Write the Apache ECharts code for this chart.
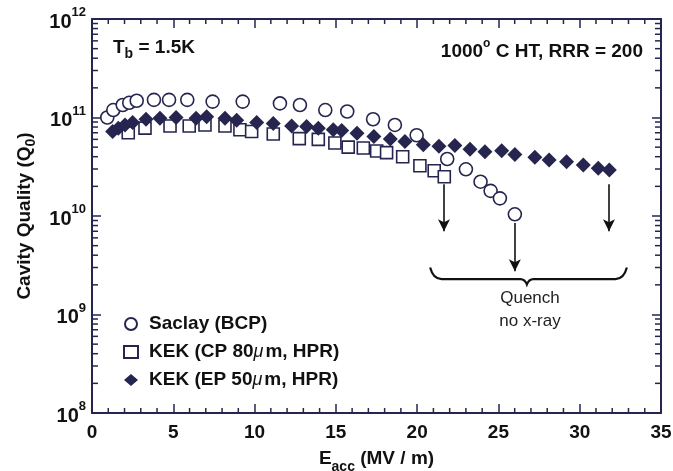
<!DOCTYPE html>
<html><head><meta charset="utf-8">
<script src="https://cdn.jsdelivr.net/npm/echarts@6/dist/echarts.min.js"></script>
<style>html,body{margin:0;padding:0;background:#fff}#c{width:673px;height:471px}</style>
</head><body><div id="c"></div>
<script>
// ---- data ----
const saclayE = [0.94, 1.31, 1.89, 2.29, 2.75, 3.81, 4.74, 5.86, 7.42, 9.27, 11.56, 12.79, 14.35, 15.70, 17.29, 18.63, 19.97, 21.85, 23.0, 23.9, 24.52, 25.09, 26.01];
const saclayQ = [1.0e11, 1.19e11, 1.34e11, 1.41e11, 1.48e11, 1.51e11, 1.51e11, 1.51e11, 1.45e11, 1.45e11, 1.39e11, 1.34e11, 1.19e11, 1.15e11, 9.6e10, 8.4e10, 6.6e10, 3.79e10, 2.98e10, 2.23e10, 1.80e10, 1.51e10, 1.04e10];
const cpE = [2.23, 3.26, 4.80, 5.98, 6.95, 8.18, 9.10, 9.82, 11.15, 12.75, 13.92, 14.94, 15.76, 16.69, 17.51, 18.12, 19.11, 20.17, 21.05, 21.67];
const cpQ = [7.0e10, 7.8e10, 8.2e10, 8.2e10, 8.4e10, 8.2e10, 7.5e10, 7.2e10, 6.8e10, 6.1e10, 6.0e10, 5.5e10, 5.0e10, 4.9e10, 4.57e10, 4.4e10, 4.0e10, 3.24e10, 2.88e10, 2.5e10];
const epE = [1.27, 1.62, 2.03, 2.50, 3.32, 4.18, 5.17, 6.40, 7.05, 8.18, 8.90, 10.13, 11.15, 12.28, 13.20, 13.92, 14.84, 15.36, 16.30, 17.34, 18.35, 19.25, 20.38, 21.34, 22.32, 23.25, 24.17, 25.20, 26.01, 27.24, 28.12, 29.19, 30.22, 31.14, 31.82];
const epQ = [7.2e10, 7.8e10, 8.4e10, 8.9e10, 9.6e10, 9.8e10, 1.0e11, 9.8e10, 1.02e11, 9.8e10, 9.4e10, 8.9e10, 8.7e10, 8.2e10, 8.1e10, 7.8e10, 7.5e10, 7.4e10, 6.9e10, 6.4e10, 6.05e10, 5.7e10, 5.3e10, 5.1e10, 5.2e10, 4.75e10, 4.5e10, 4.6e10, 4.2e10, 3.94e10, 3.7e10, 3.56e10, 3.3e10, 3.05e10, 2.93e10];
const seriesNames = ['Saclay (BCP)', 'KEK (CP 80μm, HPR)', 'KEK (EP 50μm, HPR)'];
const xMin = 0, xMax = 35, xStep = 5;
const xMinorTicks = [1, 2, 3, 4, 6, 7, 8, 9, 11, 12, 13, 14, 16, 17, 18, 19, 21, 22, 23, 24, 26, 27, 28, 29, 31, 32, 33, 34];
const yDecades = [8, 9, 10, 11, 12];
const yMinorMantissas = [2, 3, 4, 5, 6, 7, 8, 9];
// quench arrows
const arrowE = [21.65, 26.01, 31.8];
const arrowTopQ = [2.1e10, 8.5e9, 2.1e10];
const arrowTipQ = [7.0e9, 2.75e9, 7.0e9];
// brace (data coords)
const braceE = [20.8, 21.5, 26.35, 26.75, 27.15, 32.2, 32.9];
const braceQ = [3.0e9, 2.29e9, 2.29e9, 2.02e9, 2.29e9, 2.29e9, 3.0e9];

const NAVY = '#25254f';
const INK = '#111111';
const FONT = '"Liberation Sans", Arial, sans-serif';

const zip = (a, b) => a.map((v, i) => [v, b[i]]);
const minorY = [];
yDecades.slice(0, -1).forEach(d => yMinorMantissas.forEach(m => minorY.push([1, m * Math.pow(10, d)])));
const minorX = xMinorTicks.map(v => [v, 1e10]);

const axisCommon = {
  axisLine: { show: true, onZero: false, lineStyle: { color: NAVY, width: 2 } },
  splitLine: { show: false },
  minorTick: { show: false },
  minorSplitLine: { show: false },
  axisTick: { show: true, inside: true, length: 9, lineStyle: { color: NAVY, width: 1.5 } }
};

const chart = echarts.init(document.getElementById('c'));
chart.setOption({
  animation: false,
  backgroundColor: '#fff',
  grid: { left: 92, right: 12, top: 19, bottom: 58, containLabel: false, outerBoundsMode: 'none' },
  xAxis: [
    Object.assign({
      type: 'value', min: xMin, max: xMax, interval: xStep, position: 'bottom',
      axisLabel: { color: INK, fontFamily: FONT, fontSize: 19, fontWeight: 'bold', margin: 10, showMinLabel: true, showMaxLabel: true },
      name: '{b|E}{s|acc}{b| (MV / m)}',
      nameLocation: 'middle', nameGap: 31,
      nameTextStyle: { rich: {
        b: { fontFamily: FONT, fontSize: 19, fontWeight: 'bold', color: INK, lineHeight: 30, verticalAlign: 'middle' },
        s: { fontFamily: FONT, fontSize: 14, fontWeight: 'bold', color: INK, lineHeight: 14, verticalAlign: 'bottom' }
      } }
    }, axisCommon),
    Object.assign({
      type: 'value', min: xMin, max: xMax, interval: xStep, position: 'top',
      axisLabel: { show: false }
    }, axisCommon)
  ],
  yAxis: [
    Object.assign({
      type: 'log', logBase: 10, min: Math.pow(10, yDecades[0]), max: Math.pow(10, yDecades[yDecades.length - 1]), position: 'left',
      axisLabel: {
        margin: 6, showMinLabel: true, showMaxLabel: true,
        formatter: v => '{b|10}{s|' + Math.round(Math.log10(v)) + '}',
        rich: {
          b: { fontFamily: FONT, fontSize: 20, fontWeight: 'bold', color: INK, lineHeight: 26, verticalAlign: 'bottom' },
          s: { fontFamily: FONT, fontSize: 13, fontWeight: 'bold', color: INK, lineHeight: 14, verticalAlign: 'top' }
        }
      },
      name: '{b|Cavity Quality (Q}{s|0}{b|)}',
      nameLocation: 'middle', nameGap: 52,
      nameTextStyle: { rich: {
        b: { fontFamily: FONT, fontSize: 19, fontWeight: 'bold', color: INK, lineHeight: 28, verticalAlign: 'middle' },
        s: { fontFamily: FONT, fontSize: 14, fontWeight: 'bold', color: INK, lineHeight: 14, verticalAlign: 'bottom' }
      } }
    }, axisCommon),
    Object.assign({
      type: 'log', logBase: 10, min: Math.pow(10, yDecades[0]), max: Math.pow(10, yDecades[yDecades.length - 1]), position: 'right',
      axisLabel: { show: false }
    }, axisCommon)
  ],
  legend: {
    data: seriesNames,
    orient: 'vertical', left: 118, top: 309, itemGap: 8,
    itemWidth: 14, itemHeight: 12,
    formatter: n => n.replace('μ', '{m|μ}'),
    textStyle: {
      fontFamily: FONT, fontSize: 19, fontWeight: 'bold', color: INK, lineHeight: 20, padding: [0, 0, 0, 6],
      rich: { m: { fontFamily: FONT, fontSize: 18, fontStyle: 'italic', fontWeight: 'normal', color: INK, padding: [0, 2, 0, 0] } }
    }
  },
  graphic: [
    { type: 'text', left: 113, top: 38, style: {
      text: '{a|T}{s|b}{a| = 1.5K}',
      rich: {
        a: { fontFamily: FONT, fontSize: 19, fontWeight: 'bold', fill: INK, lineHeight: 28, verticalAlign: 'middle' },
        s: { fontFamily: FONT, fontSize: 14, fontWeight: 'bold', fill: INK, lineHeight: 12, verticalAlign: 'bottom' }
      } } },
    { type: 'text', right: 30, top: 38, style: {
      text: '{a|1000}{p|o}{a| C HT, RRR = 200}',
      rich: {
        a: { fontFamily: FONT, fontSize: 19, fontWeight: 'bold', fill: INK, lineHeight: 28, verticalAlign: 'middle' },
        p: { fontFamily: FONT, fontSize: 12, fontWeight: 'bold', fill: INK, lineHeight: 12, verticalAlign: 'top' }
      } } },
    { type: 'text', x: 530, y: 290, style: { text: 'Quench', align: 'center', verticalAlign: 'top', fontFamily: FONT, fontSize: 17, fill: '#222' } },
    { type: 'text', x: 530, y: 313, style: { text: 'no x-ray', align: 'center', verticalAlign: 'top', fontFamily: FONT, fontSize: 17, fill: '#222' } }
  ],
  series: [
    { name: seriesNames[0], type: 'scatter', data: zip(saclayE, saclayQ), symbol: 'circle', symbolSize: 13,
      itemStyle: { color: '#fff', borderColor: NAVY, borderWidth: 1.6, opacity: 1 } },
    { name: seriesNames[1], type: 'scatter', data: zip(cpE, cpQ), symbol: 'rect', symbolSize: 12,
      itemStyle: { color: '#fff', borderColor: NAVY, borderWidth: 1.6, opacity: 1 } },
    { name: seriesNames[2], type: 'scatter', data: zip(epE, epQ), symbol: 'diamond', symbolSize: [15, 15],
      itemStyle: { color: NAVY, borderColor: NAVY, borderWidth: 0, opacity: 1 },
      markLine: {
        silent: true, symbol: ['none', 'arrow'], symbolSize: [9, 12],
        lineStyle: { color: INK, width: 1.6, type: 'solid' }, label: { show: false },
        data: arrowE.map((e, i) => [{ coord: [e, arrowTopQ[i]] }, { coord: [e, arrowTipQ[i]] }])
      } },
    { type: 'custom', silent: true, clip: false, data: [[0]],
      renderItem: (params, api) => {
        const p = braceE.map((e, i) => api.coord([e, braceQ[i]]));
        const d = 'M' + p[0] + ' Q' + [p[0][0] + 3, p[1][1]] + ' ' + p[1] +
          ' L' + p[2] + ' Q' + [p[3][0] - 2, p[2][1]] + ' ' + p[3] +
          ' Q' + [p[3][0] + 2, p[4][1]] + ' ' + p[4] + ' L' + p[5] +
          ' Q' + [p[6][0] - 3, p[5][1]] + ' ' + p[6];
        return { type: 'path', shape: { pathData: d }, style: { fill: 'none', stroke: INK, lineWidth: 2.2 } };
      } },
    { type: 'custom', silent: true, clip: false, z: 5, data: minorY, encode: { x: 0, y: 1 },
      renderItem: (params, api) => {
        const cs = params.coordSys;
        const y = api.coord([api.value(0), api.value(1)])[1];
        return { type: 'group', children: [
          { type: 'line', shape: { x1: cs.x, y1: y, x2: cs.x + 6, y2: y }, style: { stroke: NAVY, lineWidth: 1.5 } },
          { type: 'line', shape: { x1: cs.x + cs.width - 6, y1: y, x2: cs.x + cs.width, y2: y }, style: { stroke: NAVY, lineWidth: 1.5 } }
        ] };
      } },
    { type: 'custom', silent: true, clip: false, z: 5, data: minorX, encode: { x: 0, y: 1 },
      renderItem: (params, api) => {
        const cs = params.coordSys;
        const x = api.coord([api.value(0), api.value(1)])[0];
        return { type: 'group', children: [
          { type: 'line', shape: { x1: x, y1: cs.y + cs.height, x2: x, y2: cs.y + cs.height - 5 }, style: { stroke: NAVY, lineWidth: 1.5 } },
          { type: 'line', shape: { x1: x, y1: cs.y, x2: x, y2: cs.y + 5 }, style: { stroke: NAVY, lineWidth: 1.5 } }
        ] };
      } }
  ]
});
</script></body></html>
